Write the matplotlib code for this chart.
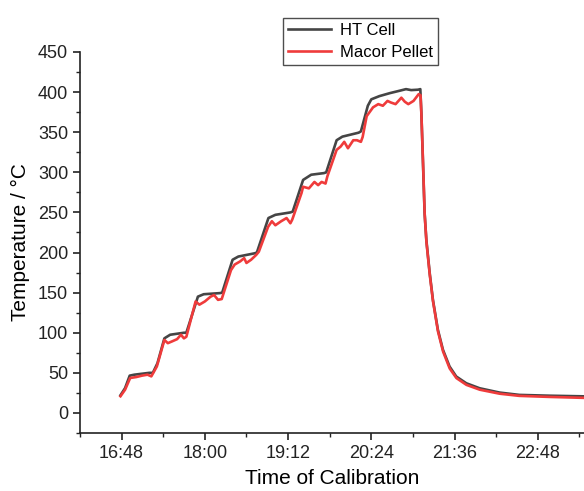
import matplotlib
matplotlib.use("Agg")
import matplotlib.pyplot as plt
from matplotlib.ticker import MultipleLocator

plt.rcParams['font.family'] = ['Liberation Sans', 'DejaVu Sans']

# time in minutes after 16:48
ht_time = [-1, 3, 7, 11, 24, 27, 31, 37, 42, 54, 56, 66, 71, 85, 87, 96, 101, 115, 117,
           127, 133, 146, 148, 157, 164, 175, 177, 186, 191, 205, 207, 213, 216, 223,
           232, 240.5, 246, 250.5, 256.4, 258.4, 259.3, 260.7, 262.1, 263.6, 266.5,
           269.3, 273.6, 278, 283.7, 289.5, 298.2, 309.7, 327, 344, 370, 400]
ht_temp = [22, 31, 46.5, 47.7, 50, 50, 62, 93, 97.5, 100, 100, 145, 148, 149.4, 150,
           191, 195, 199, 200, 243, 247, 250, 251, 290.5, 297, 299, 300, 340, 344.5,
           349.4, 351, 383, 391, 395, 398.7, 401.7, 403.7, 402.5, 403, 403.7, 374.6,
           312, 249.6, 216, 174.6, 141, 103.7, 78.7, 57.9, 45.4, 37, 30.8, 25.4, 22.5,
           21.5, 20.7]

mp_time = [-1, 3, 7.4, 12.8, 17.6, 22.4, 25.7, 30.5, 37, 40, 43.3, 48, 51.3, 53.9, 56,
           64, 67.3, 72, 77, 80, 83.4, 86.6, 94.6, 97.8, 102.6, 106, 108, 112, 116.4,
           118.7, 126.7, 130, 133, 138, 142.7, 146, 147.6, 155.6, 157, 162, 166.8, 170,
           173, 176.4, 178, 186, 189.4, 192.6, 195.8, 200.4, 203.6, 207, 208.5, 212,
           217.5, 222, 226, 230, 233, 237, 242, 245, 248, 252.5, 257, 258.6, 259.4,
           260.8, 262.2, 263.7, 266.6, 269.4, 273.7, 278.1, 283.8, 289.6, 298.3, 309.8,
           327, 344, 370, 400]
mp_temp = [20.8, 29, 43.6, 44.8, 46.5, 47.7, 45.6, 58, 91, 87, 89, 92, 97.5, 93, 95,
           139, 135, 139, 145, 147, 141, 142, 178, 185, 189, 193, 187, 191, 197, 201,
           232, 239, 234, 239, 243, 236.5, 241, 274, 282, 280, 288, 284, 288, 286, 295,
           328, 332, 338, 330, 340, 340, 338, 344, 370, 381, 385, 383, 389, 387, 385,
           393, 388, 385, 389, 397.5, 396, 370, 310, 247, 213, 172, 139, 101.5, 76.5,
           55.5, 43.5, 35, 29, 24, 21.3, 20, 18.8]

tick_pos = [0, 72, 144, 216, 288, 360]
tick_labels = ['16:48', '18:00', '19:12', '20:24', '21:36', '22:48']

fig = plt.figure(figsize=(5.84, 4.91), dpi=100)
ax = fig.add_axes([80 / 584, 58 / 491, 1 - 80 / 584, 381 / 491])

ax.plot(ht_time, ht_temp, color='#454545', lw=1.9, label='HT Cell')
ax.plot(mp_time, mp_temp, color='#ef3b3b', lw=1.9, label='Macor Pellet')

ax.set_xlim(-36, 400)
ax.set_ylim(-25, 450)
ax.set_xticks(tick_pos)
ax.set_xticklabels(tick_labels)
ax.xaxis.set_minor_locator(MultipleLocator(36))
ax.yaxis.set_minor_locator(MultipleLocator(25))
ax.set_yticks([0, 50, 100, 150, 200, 250, 300, 350, 400, 450])

ax.spines['top'].set_visible(False)
ax.spines['right'].set_visible(False)
for s in ['left', 'bottom']:
    ax.spines[s].set_linewidth(1.2)
    ax.spines[s].set_color('#222222')
ax.tick_params(which='major', direction='out', length=5, width=1.2, labelsize=13, colors='#222222')
ax.tick_params(which='minor', direction='out', length=3, width=1.0, colors='#222222')

ax.set_xlabel('Time of Calibration', fontsize=15, labelpad=5)
ax.set_ylabel('Temperature / °C', fontsize=15, labelpad=6)

leg = fig.legend(loc='upper left', bbox_to_anchor=(283 / 584, 1 - 18 / 491), fontsize=12,
                 frameon=True, fancybox=False, handlelength=2.6, borderpad=0.3,
                 labelspacing=0.4, handletextpad=0.5, borderaxespad=0)
leg.get_frame().set_edgecolor('#222222')
leg.get_frame().set_linewidth(1.0)

fig.savefig('out.png', dpi=100)
